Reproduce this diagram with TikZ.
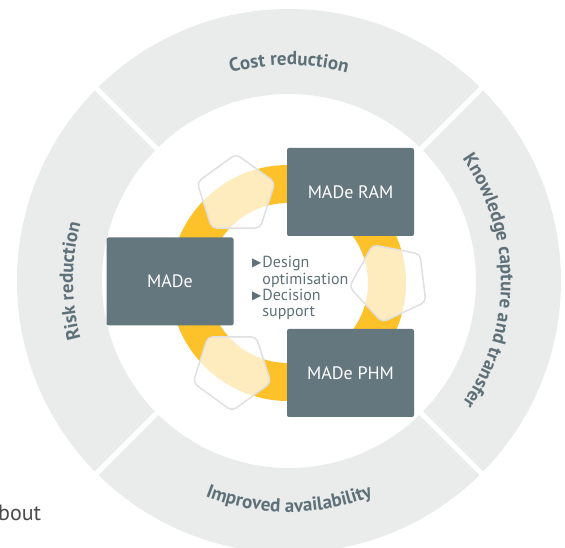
\documentclass[tikz,border=0pt]{standalone}
\usepackage{fontspec}
\setmainfont{PT Sans}
\newfontfamily\symfont{DejaVu Sans}
\usepackage{tikz}
\usetikzlibrary{shapes.geometric, decorations.text, calc}
\definecolor{ringgray}{HTML}{EAEBEB}
\definecolor{slate}{HTML}{64767E}
\definecolor{slatetxt}{HTML}{5E7078}
\definecolor{ringyellow}{HTML}{FDC12A}
\definecolor{pentline}{HTML}{E0E0E0}
\definecolor{pagetxt}{HTML}{4A4A4A}
\newcommand{\ringfont}{\fontsize{19}{19}\selectfont\bfseries}
\newcommand{\tri}{\raisebox{1pt}{\symfont\fontsize{12}{12}\selectfont ▶}}
\tikzset{
  madebox/.style = {fill=slate, text=white, rounded corners=2pt, minimum width=127pt, minimum height=88pt, inner sep=0pt, font=\fontsize{18}{18}\selectfont},
  penta/.style = {regular polygon, regular polygon sides=5, minimum size=82pt, inner sep=0pt, draw=pentline, line width=1.5pt, fill=white, fill opacity=0.7, rounded corners=5pt},
  ringlabel/.style = {decorate, decoration={text along path, text align=center, text color=slatetxt}},
}

\begin{document}
\begin{tikzpicture}[x=1pt, y=1pt]
    \useasboundingbox (0,0) rectangle (565,548);
    \coordinate (c) at (289,267);
    \coordinate (yc) at (288,265);

    % --- outer ring and its four segments
    \fill[ringgray, even odd rule] (c) circle (272) (c) circle (187);
    \foreach \a in {45,135,225,315}
      \draw[white, line width=5pt] ($(c)+(\a:180)$) -- ($(c)+(\a:280)$);

    % --- ring labels
    \path[ringlabel, decoration={text={|\ringfont|Cost reduction}}] ($(c)+(150:216)$) arc[start angle=150, end angle=30, radius=216];
    \path[ringlabel, decoration={text={|\ringfont|Risk reduction}}] ($(c)+(240:216)$) arc[start angle=240, end angle=120, radius=216];
    \path[ringlabel, decoration={text={|\ringfont|Knowledge capture and transfer}}] ($(c)+(64:212)$) arc[start angle=64, end angle=-64, radius=212];
    \path[ringlabel, decoration={text={|\ringfont|Improved availability}}] ($(c)+(210:231)$) arc[start angle=210, end angle=330, radius=231];

    % --- yellow cycle
    \fill[ringyellow, even odd rule] (yc) circle (118) (yc) circle (80);
    \node[penta] (pentaA) at (236,353) {};
    \node[penta, shape border rotate=25] (pentaB) at (390,266) {};
    \node[penta, shape border rotate=180] (pentaC) at (232,178) {};

    % --- MADe modules
    \node[madebox] (made) at (170,266.5) {MADe};
    \node[madebox] (madeRAM) at (350.5,356) {MADe RAM};
    \node[madebox] (madePHM) at (350.5,175) {MADe PHM};

    % --- goals
    \node[anchor=base west, inner sep=0pt, text=slatetxt, font=\fontsize{16}{16}\selectfont] (goals) at (252,280)
      {\begin{tabular}[t]{@{}l@{\hspace{1pt}}l@{}}\tri & Design\\ & optimisation\\ \tri & Decision\\ & support\end{tabular}};

    % --- page text behind
    \node[anchor=base west, inner sep=0pt, text=pagetxt, font=\fontsize{22}{22}\selectfont] (pagetext) at (-2,27) {bout};

\end{tikzpicture}
\end{document}
